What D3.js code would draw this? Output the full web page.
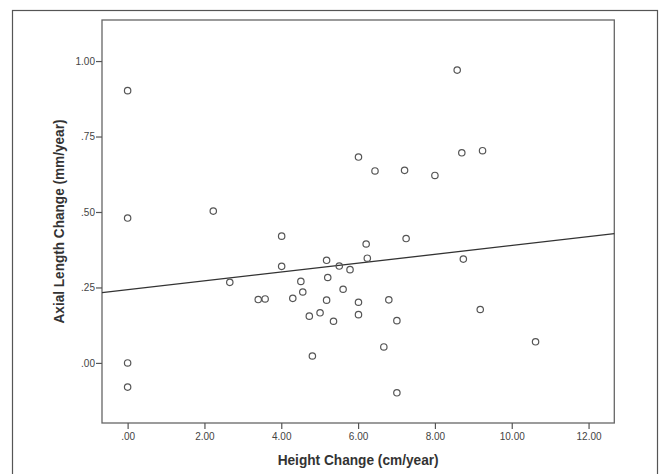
<!DOCTYPE html>
<meta charset="utf-8">
<title>Axial Length vs Height Change</title>
<script src="https://d3js.org/d3.v7.min.js"></script>
<style>
  body { margin: 0; background: #fff; }
  svg { display: block; font-family: "Liberation Sans", Arial, sans-serif; }
</style>
<body>
<svg width="659" height="474"></svg>
<script>
  // values
  var heightChange = [0, 0, 0, 0, 2.23, 2.66, 3.40, 3.58, 4.01, 4.01, 4.30, 4.51, 4.56, 4.73,
    4.81, 5.01, 5.18, 5.21, 5.18, 5.36, 5.51, 5.61, 5.79, 6.01, 6.01, 6.01, 6.21, 6.24,
    6.44, 6.67, 6.80, 7.01, 7.01, 7.21, 7.25, 8.00, 8.58, 8.70, 8.74, 9.18, 9.24, 10.62];
  var axialChange = [0.902, 0.480, 0.000, -0.080, 0.503, 0.267, 0.210, 0.212, 0.420, 0.320,
    0.214, 0.270, 0.235, 0.155, 0.023, 0.166, 0.340, 0.283, 0.208, 0.138, 0.321, 0.244,
    0.309, 0.682, 0.201, 0.160, 0.394, 0.347, 0.636, 0.053, 0.209, 0.140, -0.099, 0.638,
    0.412, 0.621, 0.970, 0.696, 0.344, 0.177, 0.703, 0.070];

  // fit line end points
  var fitX = [-0.667, 12.67];
  var fitY = [0.233, 0.428];

  var xTicks = [0, 2, 4, 6, 8, 10, 12];
  var xTickLabels = [".00", "2.00", "4.00", "6.00", "8.00", "10.00", "12.00"];
  var yTicks = [0, 0.25, 0.5, 0.75, 1];
  var yTickLabels = [".00", ".25", ".50", ".75", "1.00"];

  var svg = d3.select("svg");
  var plotLeft = 102, plotRight = 614.3, plotTop = 20, plotBottom = 423;

  var x = d3.scaleLinear().domain([-0.667, 12.67]).range([plotLeft, plotRight]);
  var y = d3.scaleLinear().domain([-0.199, 1.136]).range([plotBottom, plotTop]);

  // outer frame
  svg.append("rect")
    .attr("x", 12.5).attr("y", 10.5)
    .attr("width", 645).attr("height", 480)
    .attr("fill", "none").attr("stroke", "#555").attr("stroke-width", 1.2);

  // plot frame
  svg.append("rect")
    .attr("x", plotLeft).attr("y", plotTop)
    .attr("width", plotRight - plotLeft).attr("height", plotBottom - plotTop)
    .attr("fill", "none").attr("stroke", "#666").attr("stroke-width", 1.3);

  var xAxis = svg.append("g")
    .attr("transform", "translate(0," + plotBottom + ")")
    .call(d3.axisBottom(x).tickValues(xTicks).tickSize(6).tickPadding(4)
      .tickFormat(function (d, i) { return xTickLabels[i]; }));

  var yAxis = svg.append("g")
    .attr("transform", "translate(" + plotLeft + ",0)")
    .call(d3.axisLeft(y).tickValues(yTicks).tickSize(6).tickPadding(1)
      .tickFormat(function (d, i) { return yTickLabels[i]; }));

  [xAxis, yAxis].forEach(function (g) {
    g.select(".domain").remove();
    g.selectAll(".tick line").attr("stroke", "#555").attr("stroke-width", 1.2);
    g.selectAll(".tick text")
      .attr("fill", "#444")
      .style("font-size", "10px")
      .style("font-family", "'Liberation Sans', Arial, sans-serif");
  });

  // regression line
  svg.append("line")
    .attr("x1", x(fitX[0])).attr("y1", y(fitY[0]))
    .attr("x2", x(fitX[1])).attr("y2", y(fitY[1]))
    .attr("stroke", "#333").attr("stroke-width", 1.3);

  // points
  svg.append("g")
    .selectAll("circle")
    .data(heightChange)
    .enter().append("circle")
    .attr("cx", function (d) { return x(d); })
    .attr("cy", function (d, i) { return y(axialChange[i]); })
    .attr("r", 3.2)
    .attr("fill", "none")
    .attr("stroke", "#555")
    .attr("stroke-width", 1.2);

  // axis titles
  svg.append("text")
    .attr("x", (plotLeft + plotRight) / 2).attr("y", 465)
    .attr("text-anchor", "middle")
    .attr("textLength", 161).attr("lengthAdjust", "spacingAndGlyphs")
    .attr("fill", "#333")
    .style("font-size", "14px").style("font-weight", "bold")
    .text("Height Change (cm/year)");

  svg.append("text")
    .attr("transform", "translate(64," + (plotTop + plotBottom) / 2 + ") rotate(-90)")
    .attr("text-anchor", "middle")
    .attr("textLength", 204).attr("lengthAdjust", "spacingAndGlyphs")
    .attr("fill", "#333")
    .style("font-size", "14px").style("font-weight", "bold")
    .text("Axial Length Change (mm/year)");
</script>
</body>
